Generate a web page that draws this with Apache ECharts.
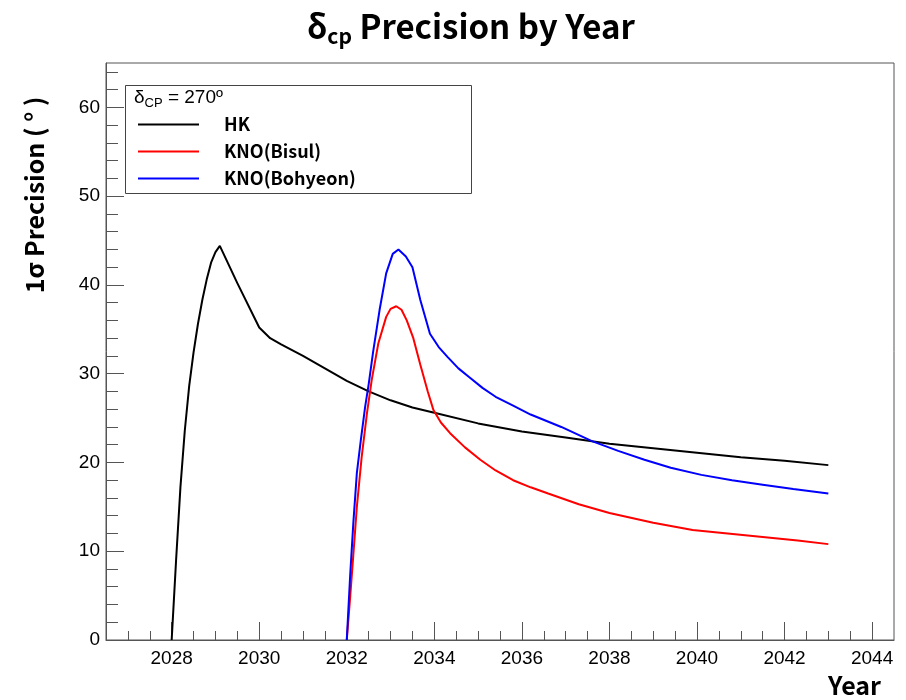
<!DOCTYPE html>
<html>
<head>
<meta charset="utf-8">
<script src="https://cdn.jsdelivr.net/npm/echarts@6/dist/echarts.min.js"></script>
<style>html,body{margin:0;padding:0;background:#fff;}#c{width:906px;height:700px;}</style>
</head>
<body>
<div id="c"></div>
<script>
// ---- data ----
const hkYears = [2028.0, 2028.1, 2028.2, 2028.3, 2028.4, 2028.5, 2028.6, 2028.7, 2028.8, 2028.9, 2029.0, 2029.1, 2029.5, 2030.0, 2030.25, 2030.5, 2031.0, 2031.5, 2032.0, 2032.5, 2033.0, 2033.5, 2034.0, 2035.0, 2036.0, 2037.0, 2038.0, 2039.0, 2040.0, 2041.0, 2042.0, 2043.0];
const hkValues = [0, 8.9, 17.2, 23.6, 28.6, 32.4, 35.6, 38.3, 40.6, 42.5, 43.7, 44.4, 40.2, 35.2, 34.0, 33.3, 32.0, 30.6, 29.2, 28.0, 27.0, 26.2, 25.6, 24.4, 23.5, 22.8, 22.1, 21.6, 21.1, 20.6, 20.2, 19.7];

const bisulYears = [2032.0, 2032.08, 2032.15, 2032.23, 2032.34, 2032.46, 2032.57, 2032.72, 2032.9, 2033.0, 2033.13, 2033.25, 2033.37, 2033.52, 2033.68, 2033.85, 2033.98, 2034.15, 2034.36, 2034.7, 2035.05, 2035.4, 2035.8, 2036.2, 2036.6, 2037.3, 2038.0, 2039.0, 2039.9, 2040.7, 2041.5, 2042.3, 2043.0];
const bisulValues = [0, 5.0, 9.6, 15.0, 20.6, 25.5, 29.3, 33.4, 36.4, 37.3, 37.6, 37.2, 36.0, 34.0, 31.0, 28.0, 25.9, 24.5, 23.3, 21.7, 20.3, 19.1, 18.0, 17.2, 16.5, 15.3, 14.3, 13.2, 12.4, 12.0, 11.6, 11.2, 10.8];

const bohyeonYears = [2032.0, 2032.08, 2032.15, 2032.23, 2032.32, 2032.42, 2032.5, 2032.6, 2032.75, 2032.9, 2033.05, 2033.18, 2033.35, 2033.5, 2033.68, 2033.9, 2034.1, 2034.3, 2034.55, 2034.8, 2035.1, 2035.4, 2035.8, 2036.2, 2036.9, 2037.6, 2038.2, 2038.8, 2039.4, 2040.1, 2040.8, 2041.5, 2042.2, 2043.0];
const bohyeonValues = [0, 7.5, 13.2, 18.8, 22.5, 26.3, 28.8, 32.4, 37.2, 41.3, 43.5, 44.0, 43.2, 42.0, 38.3, 34.5, 33.0, 31.9, 30.6, 29.6, 28.4, 27.4, 26.4, 25.4, 24.0, 22.4, 21.3, 20.3, 19.4, 18.6, 18.0, 17.5, 17.0, 16.5];

const seriesNames = ['HK', 'KNO(Bisul)', 'KNO(Bohyeon)'];
const xMajorTicks = [2028, 2030, 2032, 2034, 2036, 2038, 2040, 2042, 2044];
const xMinorTicks = [2027, 2027.5, 2028, 2028.5, 2029, 2029.5, 2030, 2030.5, 2031, 2031.5, 2032, 2032.5, 2033, 2033.5, 2034, 2034.5, 2035, 2035.5, 2036, 2036.5, 2037, 2037.5, 2038, 2038.5, 2039, 2039.5, 2040, 2040.5, 2041, 2041.5, 2042, 2042.5, 2043, 2043.5, 2044];
const yMajorTicks = [0, 10, 20, 30, 40, 50, 60];
const yMinorTicks = [0, 2, 4, 6, 8, 10, 12, 14, 16, 18, 20, 22, 24, 26, 28, 30, 32, 34, 36, 38, 40, 42, 44, 46, 48, 50, 52, 54, 56, 58, 60, 62, 64];

function pairs(xs, ys) { return xs.map((x, i) => [x, ys[i]]); }

const chart = echarts.init(document.getElementById('c'), null, {renderer: 'canvas'});
const axisColor = '#555';
const labelFont = {fontFamily: 'Liberation Sans', fontSize: 19, color: '#000'};
const xMin = 2026.5, xMax = 2044.5, yMin = 0, yMax = 65;

chart.setOption({
  animation: false,
  backgroundColor: '#fff',
  grid: {left: 106, right: 12, top: 63, bottom: 60, show: true, borderColor: axisColor, borderWidth: 1, containLabel: false},
  xAxis: [
    {type: 'value', min: xMin, max: xMax, position: 'bottom',
     axisLine: {show: true, onZero: false, lineStyle: {color: axisColor, width: 1}},
     axisTick: {show: true, inside: true, length: 18, customValues: xMajorTicks, lineStyle: {color: axisColor}},
     axisLabel: {show: true, customValues: xMajorTicks, margin: 9, ...labelFont, formatter: v => String(v)},
     splitLine: {show: false}},
    {type: 'value', min: xMin, max: xMax, position: 'bottom',
     axisLine: {show: false, onZero: false},
     axisTick: {show: true, inside: true, length: 9, customValues: xMinorTicks, lineStyle: {color: axisColor}},
     axisLabel: {show: false},
     splitLine: {show: false}}
  ],
  yAxis: [
    {type: 'value', min: yMin, max: yMax, position: 'left',
     axisLine: {show: true, onZero: false, lineStyle: {color: axisColor, width: 1}},
     axisTick: {show: true, inside: true, length: 18, customValues: yMajorTicks, lineStyle: {color: axisColor}},
     axisLabel: {show: true, customValues: yMajorTicks, margin: 6, ...labelFont},
     splitLine: {show: false}},
    {type: 'value', min: yMin, max: yMax, position: 'left',
     axisLine: {show: false, onZero: false},
     axisTick: {show: true, inside: true, length: 12, customValues: yMinorTicks, lineStyle: {color: axisColor}},
     axisLabel: {show: false},
     splitLine: {show: false}}
  ],
  legend: {
    show: true, orient: 'vertical', left: 137, top: 115, z: 20,
    padding: 0, itemWidth: 61, itemHeight: 14, itemGap: 8,
    data: seriesNames,
    itemStyle: {opacity: 0},
    textStyle: {fontFamily: 'Noto Sans CJK KR', fontWeight: 'bold', fontSize: 18, lineHeight: 19, color: '#000', padding: [0, 0, 0, 20]}
  },
  graphic: [
    {type: 'text', x: 471, y: 26, z: 30,
     style: {text: '{a|δ}{s|cp}{a| Precision by Year}', x: 0, y: 0, textAlign: 'center', textVerticalAlign: 'middle',
       rich: {
         a: {fontFamily: 'Noto Sans CJK KR', fontWeight: 'bold', fontSize: 33, lineHeight: 42, color: '#000'},
         s: {fontFamily: 'Noto Sans CJK KR', fontWeight: 'bold', fontSize: 21, lineHeight: 21, verticalAlign: 'bottom', color: '#000'}
       }}},
    {type: 'text', x: 34, y: 195, rotation: Math.PI / 2, z: 30,
     style: {text: '1σ Precision ( ° )', textAlign: 'center', textVerticalAlign: 'middle',
       fontFamily: 'Noto Sans CJK KR', fontWeight: 'bold', fontSize: 25, fill: '#000'}},
    {type: 'text', x: 881, y: 685, z: 30,
     style: {text: 'Year', textAlign: 'right', textVerticalAlign: 'middle',
       fontFamily: 'Noto Sans CJK KR', fontWeight: 'bold', fontSize: 25, fill: '#000'}},
    {type: 'rect', z: 10, shape: {x: 125.5, y: 85.5, width: 346, height: 108},
     style: {fill: '#fff', stroke: '#444', lineWidth: 1}},
    {type: 'text', x: 134, y: 98, z: 30,
     style: {text: '{a|δ}{s|CP}{a| = 270º}', textAlign: 'left', textVerticalAlign: 'middle',
       rich: {
         a: {fontFamily: 'Liberation Sans', fontSize: 19, lineHeight: 24, color: '#000'},
         s: {fontFamily: 'Liberation Sans', fontSize: 13, lineHeight: 13, verticalAlign: 'bottom', color: '#000'}
       }}}
  ],
  series: [
    {name: seriesNames[0], type: 'line', xAxisIndex: 0, yAxisIndex: 0, data: pairs(hkYears, hkValues),
     symbol: 'none', showSymbol: false, smooth: false, lineStyle: {color: '#000', width: 2}, itemStyle: {color: '#000'}},
    {name: seriesNames[1], type: 'line', xAxisIndex: 0, yAxisIndex: 0, data: pairs(bisulYears, bisulValues),
     symbol: 'none', showSymbol: false, smooth: false, lineStyle: {color: '#ff0000', width: 2}, itemStyle: {color: '#ff0000'}},
    {name: seriesNames[2], type: 'line', xAxisIndex: 0, yAxisIndex: 0, data: pairs(bohyeonYears, bohyeonValues),
     symbol: 'none', showSymbol: false, smooth: false, lineStyle: {color: '#0000ff', width: 2}, itemStyle: {color: '#0000ff'}}
  ]
});
</script>
</body>
</html>
